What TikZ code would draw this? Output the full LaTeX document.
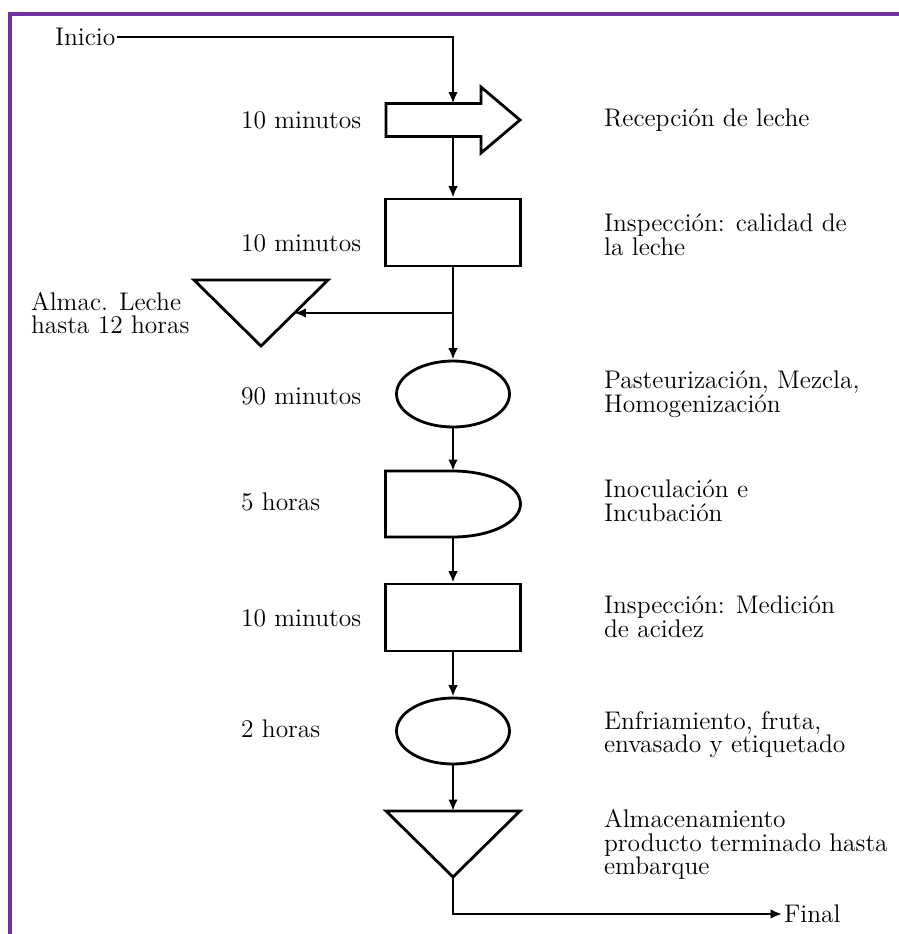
\documentclass[tikz,border=0pt]{standalone}
\usetikzlibrary{calc,shapes.geometric,arrows.meta}
\definecolor{framepurple}{HTML}{7030A0}
\tikzset{
  box/.style={draw, line width=1.6pt, minimum width=2.7cm, minimum height=1.34cm, inner sep=0pt},
  oval/.style={ellipse, draw, line width=1.6pt, minimum width=2.26cm, minimum height=1.32cm, inner sep=0pt},
  slot/.style={minimum width=2.68cm, minimum height=1.32cm, inner sep=0pt, outer sep=0pt},
  outline/.style={line width=1.6pt, line join=miter},
  flow/.style={line width=1.3pt, -{Latex[length=6.5pt,width=5.5pt]}},
  lbl/.style={anchor=west, align=left, inner sep=1pt, font=\fontsize{14.5}{13.5}\selectfont},
}
\begin{document}
\begin{tikzpicture}[x=0.02cm, y=-0.02cm]
\useasboundingbox (0,0) rectangle (899,934);
\draw [framepurple, line width=0.08cm] (10,940) -- (10,14) -- (905,14);

\node [lbl] (start) at (53,37) {Inicio};
\node [slot, minimum height=0.66cm] (recv) at (453,120) {};
\node [box] (insp1) at (453,232.5) {};
\node [slot] (tank) at (261,313) {};
\node [oval] (past) at (453,394) {};
\node [slot, minimum width=2.7cm] (inoc) at (453,504) {};
\node [box] (acid) at (453,617.5) {};
\node [oval] (cool) at (453,731) {};
\node [slot] (store) at (453,844) {};
\node [lbl] (final) at (782,914) {Final};

\draw [outline] (recv.south west) -- (recv.north west) -- ($(recv.north east)+(-39,0)$) -- ++(0,-16.5)
  -- (recv.east) -- ($(recv.south east)+(-39,16.5)$) -- ++(0,-16.5) -- cycle;
\foreach \n in {tank,store}
{	\draw [outline] (\n.north west) -- (\n.north east) -- (\n.south) -- cycle;
}
\draw [outline] (inoc.south west) -- (inoc.north west) -- (inoc.north)
  arc [start angle=90, end angle=-90, x radius=1.35cm, y radius=0.66cm] -- cycle;

\coordinate (split) at (insp1.south |- tank);
\coordinate (tankin) at ($(tank.north east)!.5!(tank.south)$);
\draw [flow] (start.east) -| (recv.north);
\draw [flow] (recv) -- (insp1);
\draw [flow] (insp1) -- (past);
\draw [flow] (split) -- (tankin);
\draw [flow] (past) -- (inoc);
\draw [flow] (inoc) -- (acid);
\draw [flow] (acid) -- (cool);
\draw [flow] (cool) -- (store);
\draw [flow] (store.south) |- (final.west);

\foreach \y/\t/\n in {120/10 minutos/t1, 243/10 minutos/t2, 396/90 minutos/t3,
  502/5 horas/t4, 618/10 minutos/t5, 729/2 horas/t6}
{	\node [lbl] (\n) at (239,\y) {\t};
}
\node [lbl] (tk) at (29,313) {Almac. Leche\\hasta 12 horas};

\node [lbl] (d1) at (602,120) {Recepción de leche};
\node [lbl] (d2) at (602,234.5) {Inspección: calidad de\\la leche};
\node [lbl] (d3) at (602,394.5) {Pasteurización, Mezcla,\\Homogenización};
\node [lbl] (d4) at (602,500.5) {Inoculación e\\Incubación};
\node [lbl] (d5) at (602,616.5) {Inspección: Medición\\de acidez};
\node [lbl] (d6) at (602,734.5) {Enfriamiento, fruta,\\envasado y etiquetado};
\node [lbl] (d7) at (602,844.5) {Almacenamiento\\producto terminado hasta\\embarque};
\end{tikzpicture}
\end{document}
